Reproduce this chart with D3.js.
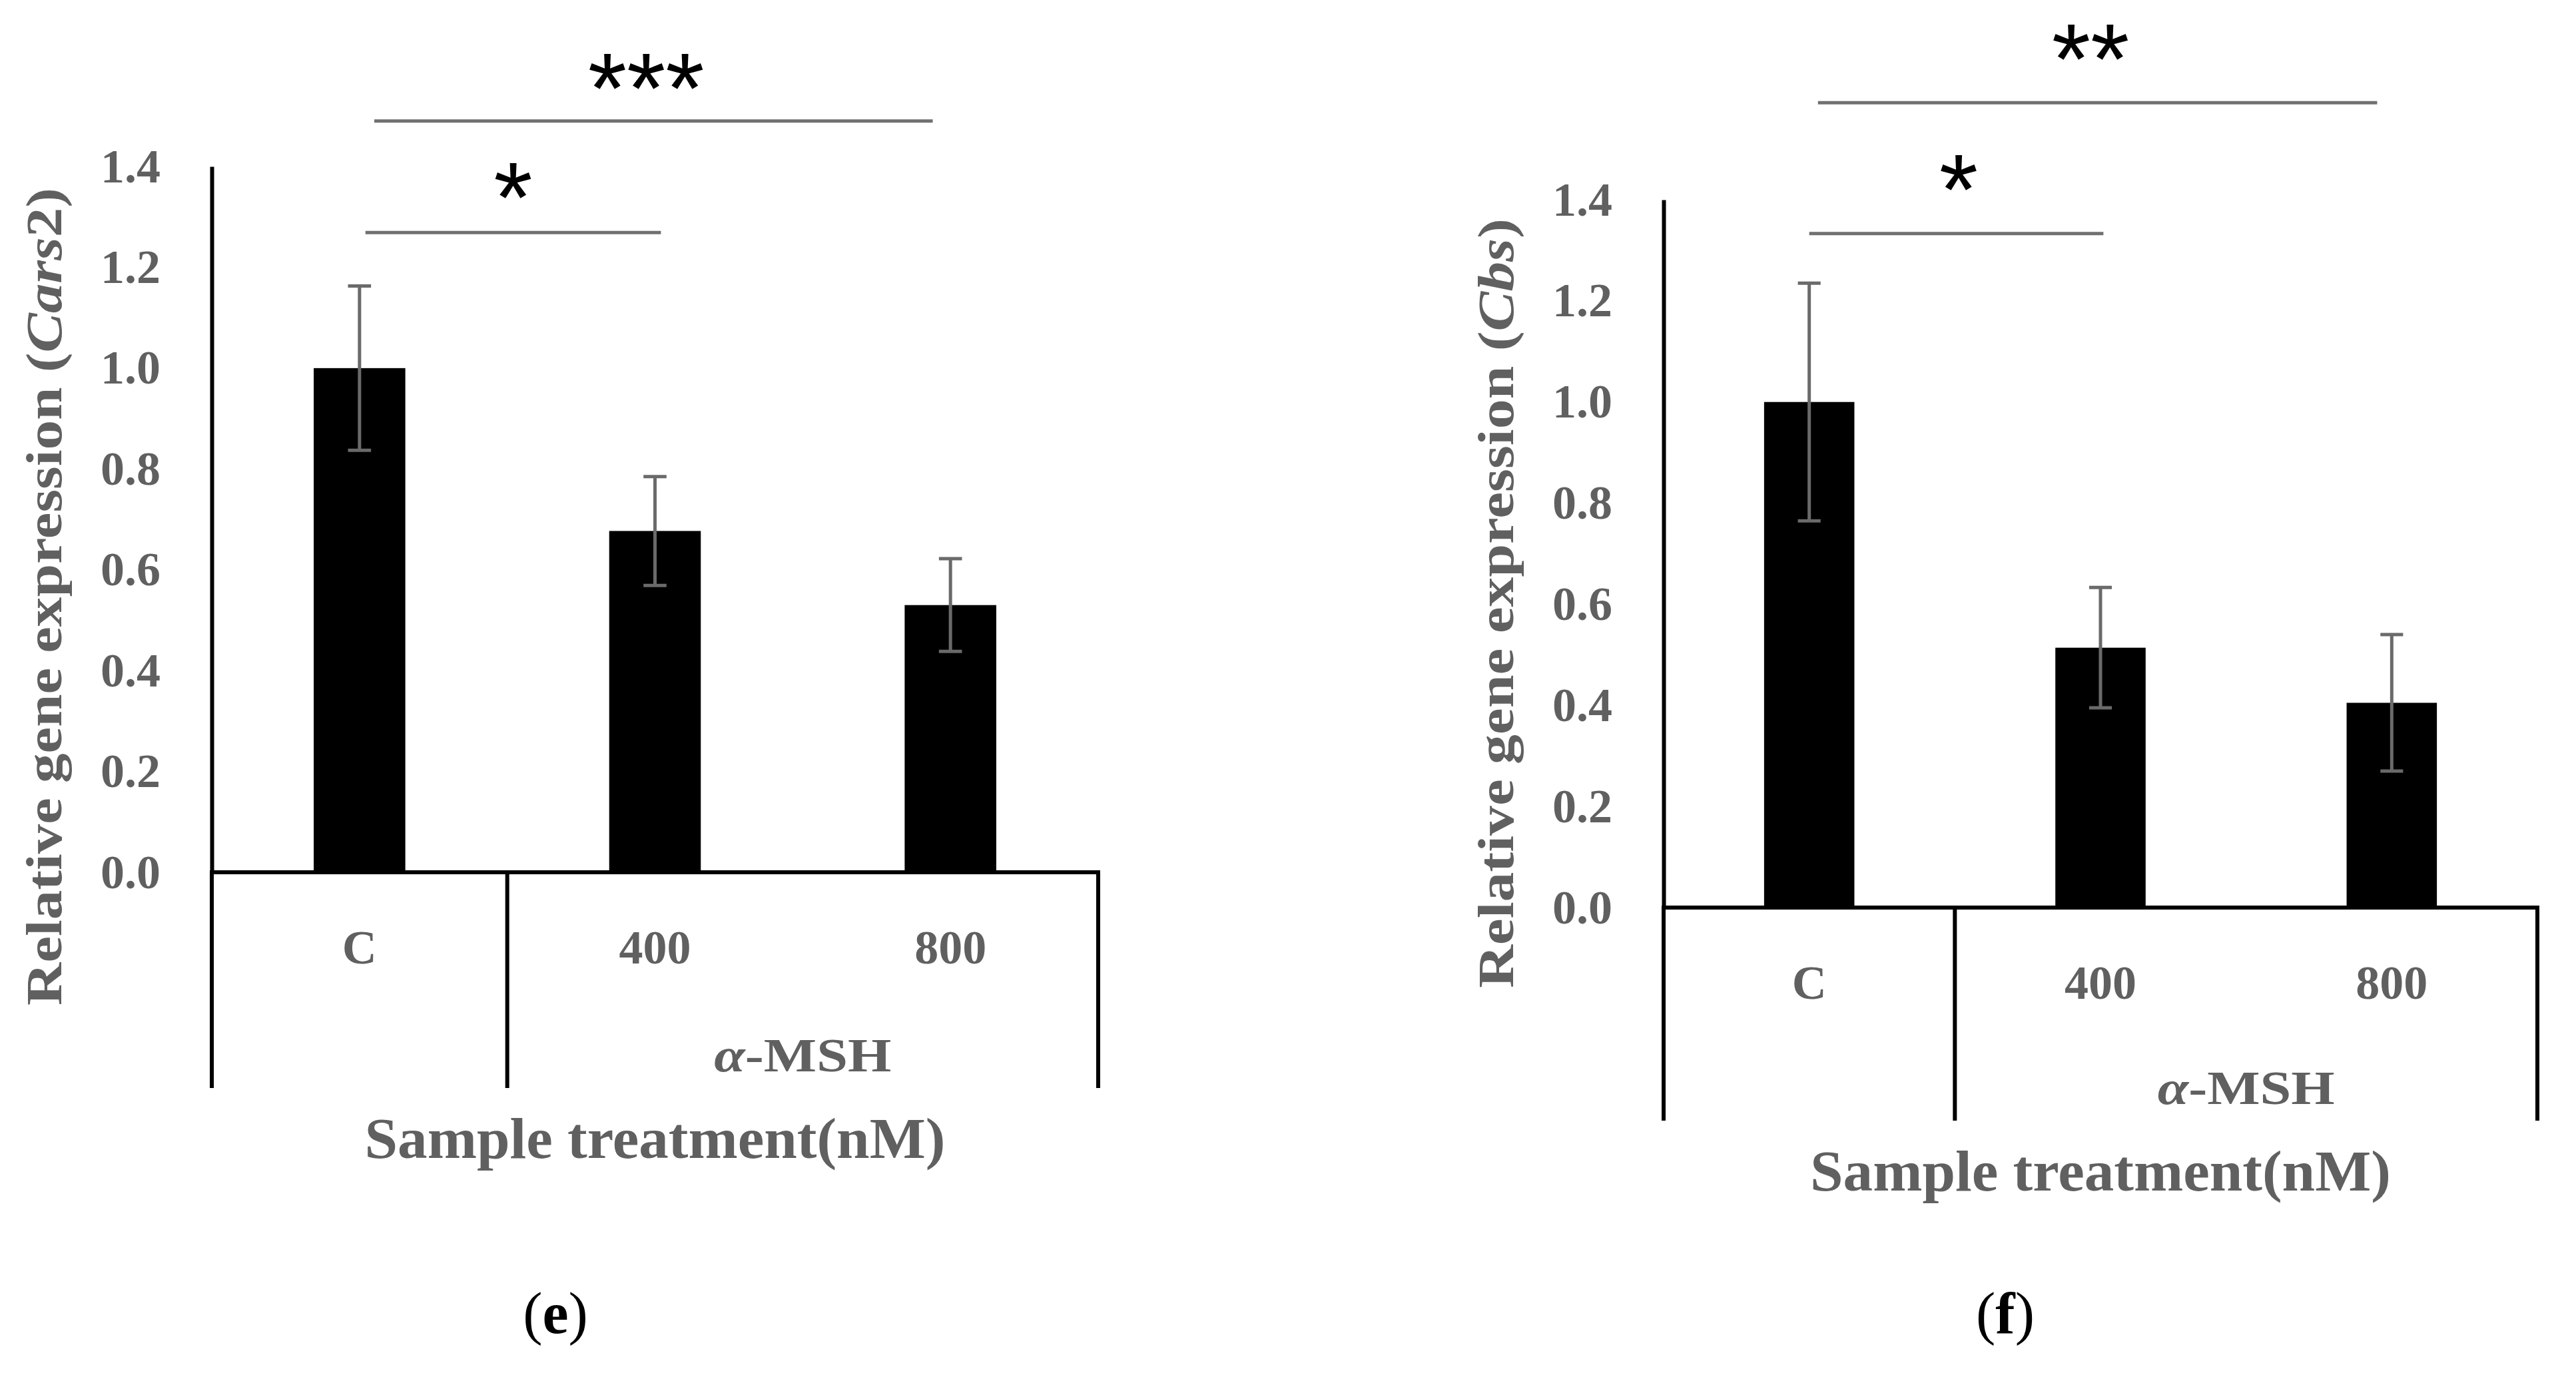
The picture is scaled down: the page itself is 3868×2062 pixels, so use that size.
<!DOCTYPE html>
<html>
<head>
<meta charset="utf-8">
<script src="https://cdn.jsdelivr.net/npm/d3@7"></script>
<style>
  html, body { margin: 0; padding: 0; background: #fff; }
  svg { display: block; }
</style>
</head>
<body>
<svg id="chart" width="3868" height="2062"></svg>
<script>
// values
const categories = ['C', '400', '800'];
const yTicks = [0, 0.2, 0.4, 0.6, 0.8, 1.0, 1.2, 1.4];

const cars2Mean = [1.0, 0.677, 0.530];
const cars2Err = [0.163, 0.108, 0.092];

const cbsMean = [1.0, 0.514, 0.405];
const cbsErr = [0.235, 0.119, 0.135];

// significance bars: x in category units (0..3), y in expression units
const cars2Sig = [
  { x1: 0.55, x2: 2.44, y: 1.490, label: '***', lx: 1.47, ly: 1.595 },
  { x1: 0.52, x2: 1.52, y: 1.269, label: '*', lx: 1.02, ly: 1.378 }
];
const cbsSig = [
  { x1: 0.53, x2: 2.45, y: 1.592, label: '**', lx: 1.466, ly: 1.718 },
  { x1: 0.50, x2: 1.51, y: 1.333, label: '*', lx: 1.013, ly: 1.460 }
];

const grey = '#606060';
const serif = '"Liberation Serif", "Times New Roman", serif';

const panels = [
  { letter: 'e', gene: 'Cars', suffix: '2', means: cars2Mean, errs: cars2Err, sig: cars2Sig,
    left: 318, right: 1649, zero: 1310, top: 250, bottom: 1634, titleCy: 896, titleLen: 1228, letterX: 834 },
  { letter: 'f', gene: 'Cbs', suffix: '', means: cbsMean, errs: cbsErr, sig: cbsSig,
    left: 2498, right: 3810, zero: 1363, top: 300, bottom: 1683, titleCy: 906, titleLen: 1156, letterX: 3011 }
];

const svg = d3.select('#chart');

// squeeze/stretch a text node horizontally to a target length
function fitWidth(sel, target) {
  let w = sel.node().getBBox().width;
  if (w > 0) sel.attr('transform', `scale(${target / w},1)`);
}

panels.forEach(p => {
  let g = svg.append('g');

  let x = d3.scaleBand().domain(categories).range([p.left, p.right]).padding(0);
  let y = d3.scaleLinear().domain([0, 1.4]).range([p.zero, p.top]);
  let xu = u => p.left + u * x.step();
  let barW = x.bandwidth() * 0.31;
  let capW = x.bandwidth() * 0.078;

  // y axis
  let yAxis = g.append('g')
    .attr('transform', `translate(${p.left},0)`)
    .call(d3.axisLeft(y).tickValues(yTicks).tickFormat(d3.format('.1f')).tickSize(0).tickSizeOuter(0).tickPadding(77));
  yAxis.select('.domain').attr('stroke', '#000').attr('stroke-width', 6);
  yAxis.selectAll('text')
    .attr('fill', grey)
    .style('font-family', serif)
    .style('font-weight', 'bold')
    .style('font-size', '72px');

  // bars
  g.selectAll('rect.bar')
    .data(categories)
    .join('rect')
    .attr('class', 'bar')
    .attr('x', d => x(d) + (x.bandwidth() - barW) / 2)
    .attr('width', barW)
    .attr('y', (d, i) => y(p.means[i]))
    .attr('height', (d, i) => y(0) - y(p.means[i]))
    .attr('fill', '#000');

  // error bars
  let eb = g.selectAll('g.err')
    .data(categories)
    .join('g')
    .attr('class', 'err')
    .attr('stroke', '#6a6a6a')
    .attr('stroke-width', 5);
  eb.append('line')
    .attr('x1', d => x(d) + x.bandwidth() / 2)
    .attr('x2', d => x(d) + x.bandwidth() / 2)
    .attr('y1', (d, i) => y(p.means[i] + p.errs[i]))
    .attr('y2', (d, i) => y(p.means[i] - p.errs[i]));
  ['+', '-'].forEach(s => {
    eb.append('line')
      .attr('x1', d => x(d) + (x.bandwidth() - capW) / 2)
      .attr('x2', d => x(d) + (x.bandwidth() + capW) / 2)
      .attr('y1', (d, i) => y(s === '+' ? p.means[i] + p.errs[i] : p.means[i] - p.errs[i]))
      .attr('y2', (d, i) => y(s === '+' ? p.means[i] + p.errs[i] : p.means[i] - p.errs[i]));
  });

  // x axis: baseline plus group dividers
  g.append('line')
    .attr('x1', p.left - 3).attr('x2', p.right + 3)
    .attr('y1', y(0)).attr('y2', y(0))
    .attr('stroke', '#000').attr('stroke-width', 6);
  let dividers = [p.left, x('400'), p.right];
  g.selectAll('line.div')
    .data(dividers)
    .join('line')
    .attr('class', 'div')
    .attr('x1', d => d).attr('x2', d => d)
    .attr('y1', y(0)).attr('y2', p.bottom)
    .attr('stroke', '#000').attr('stroke-width', 6);

  // category labels
  g.selectAll('text.cat')
    .data(categories)
    .join('text')
    .attr('class', 'cat')
    .attr('x', d => x(d) + x.bandwidth() / 2)
    .attr('y', y(0) + 137)
    .attr('text-anchor', 'middle')
    .attr('fill', grey)
    .style('font-family', serif)
    .style('font-weight', 'bold')
    .style('font-size', '72px')
    .text(d => d);

  // alpha-MSH group label
  let msh = g.append('g').attr('transform', `translate(${xu(2)},${p.bottom - 25})`)
    .append('text')
    .attr('text-anchor', 'middle')
    .attr('fill', grey)
    .style('font-family', serif)
    .style('font-weight', 600)
    .style('font-size', '72px');
  msh.append('tspan').style('font-style', 'italic').text('α');
  msh.append('tspan').text('-MSH');
  fitWidth(msh, 266);

  // x title
  let xt = g.append('g').attr('transform', `translate(${xu(1.5)},${p.bottom + 105})`)
    .append('text')
    .attr('text-anchor', 'middle')
    .attr('fill', grey)
    .style('font-family', serif)
    .style('font-weight', 'bold')
    .style('font-size', '86px')
    .text('Sample treatment(nM)');
  fitWidth(xt, 872);

  // y title
  let yt = g.append('g').attr('transform', `translate(${p.left - 226},${p.titleCy}) rotate(-90)`)
    .append('text')
    .attr('text-anchor', 'middle')
    .attr('fill', grey)
    .style('font-family', serif)
    .style('font-weight', 'bold')
    .style('font-size', '76px');
  yt.append('tspan').text('Relative gene expression (');
  yt.append('tspan').style('font-style', 'italic').text(p.gene);
  yt.append('tspan').text(p.suffix + ')');
  fitWidth(yt, p.titleLen);

  // significance bars
  g.selectAll('line.sig')
    .data(p.sig)
    .join('line')
    .attr('class', 'sig')
    .attr('x1', d => xu(d.x1)).attr('x2', d => xu(d.x2))
    .attr('y1', d => y(d.y)).attr('y2', d => y(d.y))
    .attr('stroke', '#707070').attr('stroke-width', 5);
  g.selectAll('text.sig')
    .data(p.sig)
    .join('text')
    .attr('class', 'sig')
    .attr('x', d => xu(d.lx))
    .attr('y', d => y(d.ly) + 0.55 * 150)
    .attr('text-anchor', 'middle')
    .attr('fill', '#000')
    .style('font-family', '"Liberation Sans", Arial, sans-serif')
    .style('font-size', '150px')
    .text(d => d.label);

  // panel letter
  let lt = g.append('text')
    .attr('x', p.letterX)
    .attr('y', 2002)
    .attr('text-anchor', 'middle')
    .attr('fill', '#000')
    .style('font-family', serif)
    .style('font-size', '88px');
  lt.append('tspan').text('(');
  lt.append('tspan').style('font-weight', 'bold').text(p.letter);
  lt.append('tspan').text(')');
});
</script>
</body>
</html>
